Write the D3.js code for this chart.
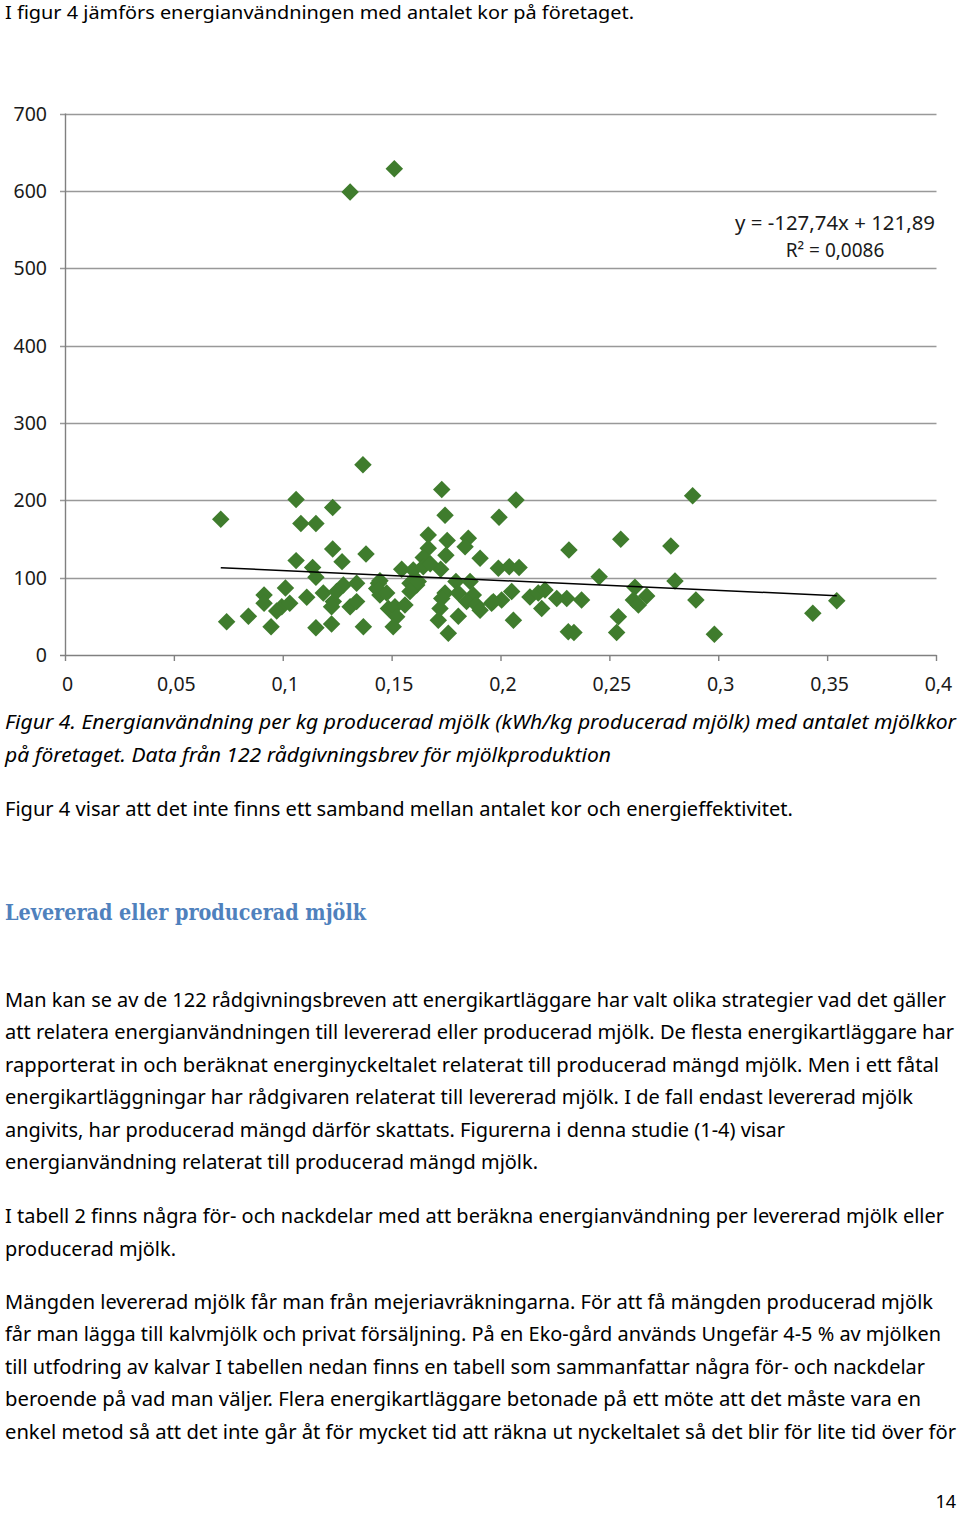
<!DOCTYPE html>
<html>
<head>
<meta charset="utf-8">
<script src="https://cdn.jsdelivr.net/npm/d3@7"></script>
<style>
  body { margin: 0; background: #fff; }
  svg { display: block; }
</style>
</head>
<body>
<script>
// energy per kg milk (x) vs number of milk cows (y)
var xValues = [0.0713,0.1059,0.1227,0.1081,0.115,0.1227,0.138,0.1059,0.127,0.1135,
  0.115,0.101,0.0912,0.0912,0.0993,0.103,0.1108,0.074,0.084,0.0944,
  0.115,0.1222,0.1184,0.123,0.1276,0.1222,0.1307,0.1337,0.1337,0.1368,
  0.1437,0.1444,0.1483,0.1366,0.1307,0.151,0.1245,0.097,0.1429,
  0.1728,0.2069,0.1743,0.1991,0.1666,0.1753,0.185,0.1835,0.1666,0.1747,
  0.1904,0.1643,0.1988,0.2038,0.2083,0.1544,0.1597,0.1643,0.1723,0.1444,
  0.1437,0.1475,0.1582,0.1613,0.1582,0.1793,0.1858,0.1743,0.1728,0.1804,
  0.1873,0.1842,0.1888,0.1904,0.1957,0.2003,0.2049,0.2133,0.2171,0.2202,
  0.2256,0.2302,0.1513,0.1559,0.1521,0.1505,0.1712,0.1804,0.1758,0.2187,
  0.2057,0.2309,0.162,0.172,0.1675,0.1965,
  0.288,0.255,0.278,0.2312,0.2451,0.2615,0.2799,0.2669,0.2608,0.2631,
  0.2895,0.237,0.2539,0.2335,0.2531,0.298,0.3432,0.3542];
var yValues = [175.5,201,190.6,170,170,137,130.6,122,120.7,113,
  100.5,86.7,77.6,67,62.5,67,74.6,43,50,36.6,
  35.3,40,80,69,90.6,62.5,62.5,69,92.7,36.6,
  92.7,77.6,60,245.8,598.6,628.7,82,57,86,
  214,200.5,180.7,178,155,147.9,151,140,138,129,
  125,126,112,114,113,110.8,110,114,110.8,96,
  84,80,92.7,90.6,82,95,95,80,73,80,
  77.6,69,64.7,58,67,71,82,75,80,84,
  73,73,62.5,64.7,49.5,36.6,45,50,28,60,
  45,30,95,60,118,69,
  206,149.7,141,135.8,101,87.6,95.7,76.3,71,64.7,
  71,71,49.5,29,29,26.8,54,70];

var xTicks = [0,0.05,0.1,0.15,0.2,0.25,0.3,0.35,0.4];
var yTicks = [0,100,200,300,400,500,600,700];
var slope = -127.74, intercept = 121.89;
var equationLines = ["y = -127,74x + 121,89", "R\u00b2 = 0,0086"];

var topLine = "I figur 4 jämförs energianvändningen med antalet kor på företaget.";
var captionLines = [
  "Figur 4. Energianvändning per kg producerad mjölk (kWh/kg producerad mjölk) med antalet mjölkkor",
  "på företaget. Data från 122 rådgivningsbrev för mjölkproduktion"];
var afterCaption = "Figur 4 visar att det inte finns ett samband mellan antalet kor och energieffektivitet.";
var heading = "Levererad eller producerad mjölk";
var bodyLines = [
  ["Man kan se av de 122 rådgivningsbreven att energikartläggare har valt olika strategier vad det gäller", 1000, 946],
  ["att relatera energianvändningen till levererad eller producerad mjölk. De flesta energikartläggare har", 1032, 954],
  ["rapporterat in och beräknat energinyckeltalet relaterat till producerad mängd mjölk. Men i ett fåtal", 1065, 939],
  ["energikartläggningar har rådgivaren relaterat till levererad mjölk. I de fall endast levererad mjölk", 1097, 913],
  ["angivits, har producerad mängd därför skattats. Figurerna i denna studie (1-4) visar", 1130, 785],
  ["energianvändning relaterat till producerad mängd mjölk.", 1162, 538],
  ["I tabell 2 finns några för- och nackdelar med att beräkna energianvändning per levererad mjölk eller", 1216, 944],
  ["producerad mjölk.", 1249, 176],
  ["Mängden levererad mjölk får man från mejeriavräkningarna. För att få mängden producerad mjölk", 1302, 933],
  ["får man lägga till kalvmjölk och privat försäljning. På en Eko-gård används Ungefär 4-5 % av mjölken", 1334, 941],
  ["till utfodring av kalvar I tabellen nedan finns en tabell som sammanfattar några för- och nackdelar", 1367, 925],
  ["beroende på vad man väljer.  Flera energikartläggare betonade på ett möte att det måste vara en", 1399, 921],
  ["enkel metod så att det inte går åt för mycket tid att räkna ut nyckeltalet så det blir för lite tid över för", 1432, 956]
];

var bodyFont = "'Noto Sans', 'Open Sans', sans-serif";

var svg = d3.select("body").append("svg")
  .attr("width", 960)
  .attr("height", 1514);

function addLine(str, cy, right, opts){
  opts = opts || {};
  var t = svg.append("text")
    .attr("x", 5)
    .attr("y", cy + 7)
    .attr("font-family", opts.family || bodyFont)
    .attr("font-size", opts.size || 19)
    .attr("fill", opts.fill || "#000")
    .attr("textLength", right - 5)
    .attr("lengthAdjust", "spacingAndGlyphs")
    .text(str);
  if(opts.italic) t.attr("font-style", "italic");
  if(opts.bold) t.attr("font-weight", "bold");
  return t;
}

addLine(topLine, 12, 634, {size: 18.5});

// ---- chart ----
var x = d3.scaleLinear().domain([0, 0.4]).range([65.5, 936.5]);
var y = d3.scaleLinear().domain([0, 700]).range([655, 113.5]);

var g = svg.append("g");

g.selectAll("line.grid")
  .data(yTicks)
  .enter()
  .append("line")
  .attr("class", "grid")
  .attr("x1", 60)
  .attr("x2", 936.5)
  .attr("y1", function(d){ return Math.round(y(d)) + 0.5; })
  .attr("y2", function(d){ return Math.round(y(d)) + 0.5; })
  .attr("stroke", function(d){ return d === 0 ? "#808080" : "#999"; })
  .attr("stroke-width", 1.4);

g.append("line")
  .attr("x1", x(0)).attr("x2", x(0))
  .attr("y1", y(700)).attr("y2", y(0))
  .attr("stroke", "#808080").attr("stroke-width", 1.4);

g.selectAll("line.xtick")
  .data(xTicks)
  .enter()
  .append("line")
  .attr("class", "xtick")
  .attr("x1", function(d){ return x(d); })
  .attr("x2", function(d){ return x(d); })
  .attr("y1", y(0))
  .attr("y2", y(0) + 6)
  .attr("stroke", "#808080").attr("stroke-width", 1.4);

g.selectAll("text.ylab")
  .data(yTicks)
  .enter()
  .append("text")
  .attr("class", "ylab")
  .attr("x", 47)
  .attr("y", function(d){ return y(d) + 7; })
  .attr("text-anchor", "end")
  .attr("font-family", bodyFont)
  .attr("font-size", 19.5)
  .attr("fill", "#1a1a1a")
  .text(function(d){ return d; });

g.selectAll("text.xlab")
  .data(xTicks)
  .enter()
  .append("text")
  .attr("class", "xlab")
  .attr("x", function(d){ return x(d) + 2; })
  .attr("y", 691)
  .attr("text-anchor", "middle")
  .attr("font-family", bodyFont)
  .attr("font-size", 19.5)
  .attr("fill", "#1a1a1a")
  .text(function(d){ return String(d).replace(".", ","); });

// markers
var diamond = d3.symbol().type(d3.symbolDiamond2).size(195);
var pts = xValues.map(function(v, i){ return [v, yValues[i]]; });
g.selectAll("path.pt")
  .data(pts)
  .enter()
  .append("path")
  .attr("class", "pt")
  .attr("d", diamond)
  .attr("transform", function(d){ return "translate(" + x(d[0]) + "," + y(d[1]) + ")"; })
  .attr("fill", "#3f7c2d");

// trendline
var xMin = d3.min(xValues), xMax = d3.max(xValues);
g.append("line")
  .attr("x1", x(xMin)).attr("y1", y(slope * xMin + intercept))
  .attr("x2", x(xMax)).attr("y2", y(slope * xMax + intercept))
  .attr("stroke", "#000").attr("stroke-width", 1.5);

g.append("text")
  .attr("x", 935).attr("y", 230)
  .attr("text-anchor", "end")
  .attr("font-family", bodyFont).attr("font-size", 19)
  .attr("fill", "#1a1a1a")
  .attr("textLength", 200).attr("lengthAdjust", "spacingAndGlyphs")
  .text(equationLines[0]);
g.append("text")
  .attr("x", 835).attr("y", 257)
  .attr("text-anchor", "middle")
  .attr("font-family", bodyFont).attr("font-size", 19)
  .attr("fill", "#1a1a1a")
  .text(equationLines[1]);

// ---- text below ----
addLine(captionLines[0], 722, 956, {italic: true});
addLine(captionLines[1], 755, 611, {italic: true});
addLine(afterCaption, 809, 793);
addLine(heading, 913, 366, {family: "'DejaVu Serif', 'Liberation Serif', serif", size: 22, bold: true, fill: "#4f81bd"});

bodyLines.forEach(function(l){ addLine(l[0], l[1], l[2]); });

svg.append("text")
  .attr("x", 956).attr("y", 1508)
  .attr("text-anchor", "end")
  .attr("font-family", bodyFont).attr("font-size", 18)
  .text("14");
</script>
</body>
</html>
